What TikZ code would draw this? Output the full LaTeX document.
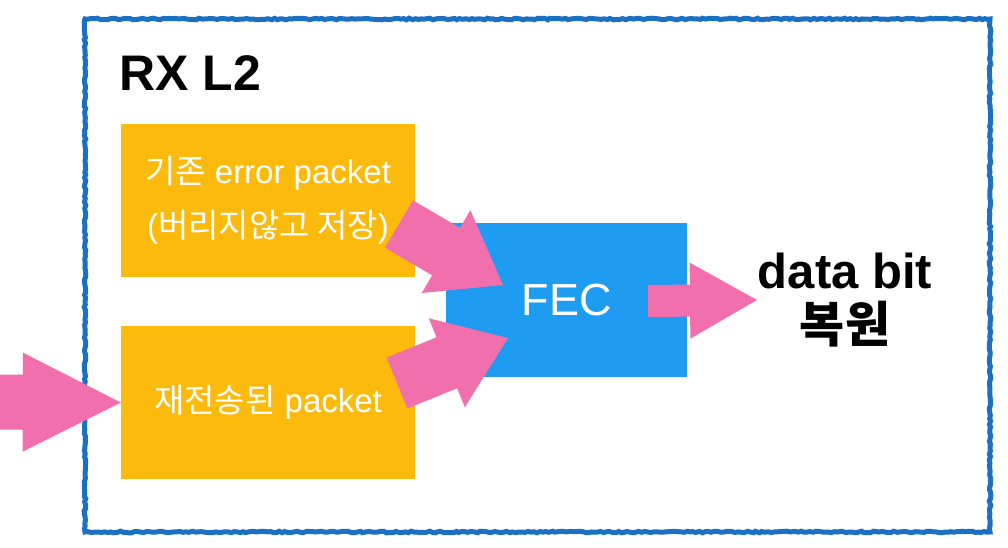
\documentclass[tikz,border=0pt]{standalone}
\usepackage{fontspec}
\setmainfont{Liberation Sans}
\newfontfamily\kr{Noto Sans CJK KR}
\usetikzlibrary{calc,decorations.pathmorphing}
\definecolor{orangebox}{HTML}{FBBA0C}
\definecolor{fecblue}{HTML}{1E9CF2}
\definecolor{pinkarrow}{HTML}{F26FAE}
\definecolor{borderblue}{HTML}{1A70C2}
% #1 tail, #2 tip, #3 shaft half width, #4 head half width, #5 head length
\newcommand{\blockarrow}[5]{%
  \coordinate (#1-hb) at ($(#2)!#5!(#1)$);
  \fill[pinkarrow] ($(#1)!#3!90:(#2)$) -- ($(#1-hb)!#3!90:(#2)$) -- ($(#1-hb)!#4!90:(#2)$)
    -- (#2) -- ($(#1-hb)!#4!-90:(#2)$) -- ($(#1-hb)!#3!-90:(#2)$) -- ($(#1)!#3!-90:(#2)$) -- cycle;
}
\tikzset{
  obox/.style={fill=orangebox, draw=none, minimum width=294pt, minimum height=153pt, inner sep=0pt,
    text=white, align=center, font=\fontsize{33}{54}\selectfont},
  fecbox/.style={fill=fecblue, draw=none, minimum width=241pt, minimum height=154pt, inner sep=0pt,
    text=white, font=\fontsize{45}{50}\selectfont},
  frame/.style={draw=borderblue, line width=5pt, decorate,
    decoration={random steps, segment length=3pt, amplitude=0.8pt}},
  title/.style={font=\bfseries\fontsize{50}{54}\selectfont, inner sep=0pt},
  result/.style={font=\bfseries\fontsize{49}{54}\selectfont, align=center, inner sep=0pt}
}
\begin{document}
\begin{tikzpicture}[x=1pt,y=-1pt]
  \useasboundingbox (0,0) rectangle (1008,548);
  \fill[white] (0,0) rectangle (1008,548);
  \draw[frame] (85,19) -- (990,19) -- (990,532) -- (85,532) -- cycle;
  \node[title, anchor=west] (rx) at (119,73) {RX L2};
  \node[obox] (err) at (268,200.5) {{\kr 기존} error packet\\({\kr 버리지않고 저장})};
  \node[obox] (re) at (268,402.5) {{\kr 재전송된} packet};
  \node[fecbox] (fec) at (566.5,300) {FEC};
  \node[result] (out) at (845,300) {data bit\\{\kr\bfseries 복원}};
  % arrow end points
  \coordinate (inT) at (-10,402);
  \coordinate (inH) at (re.west);
  \coordinate (errT) at (399,224);
  \coordinate (errH) at (503,285);
  \coordinate (reT) at (397,383);
  \coordinate (reH) at (508,338);
  \coordinate (outT) at (648,301);
  \coordinate (outH) at (757,300);
  \blockarrow{inT}{inH}{27.5pt}{49.5pt}{98pt}
  \blockarrow{errT}{errH}{27.5pt}{48pt}{66pt}
  \blockarrow{reT}{reH}{27.5pt}{48pt}{66pt}
  \blockarrow{outT}{outH}{16pt}{38pt}{67pt}
\end{tikzpicture}
\end{document}
